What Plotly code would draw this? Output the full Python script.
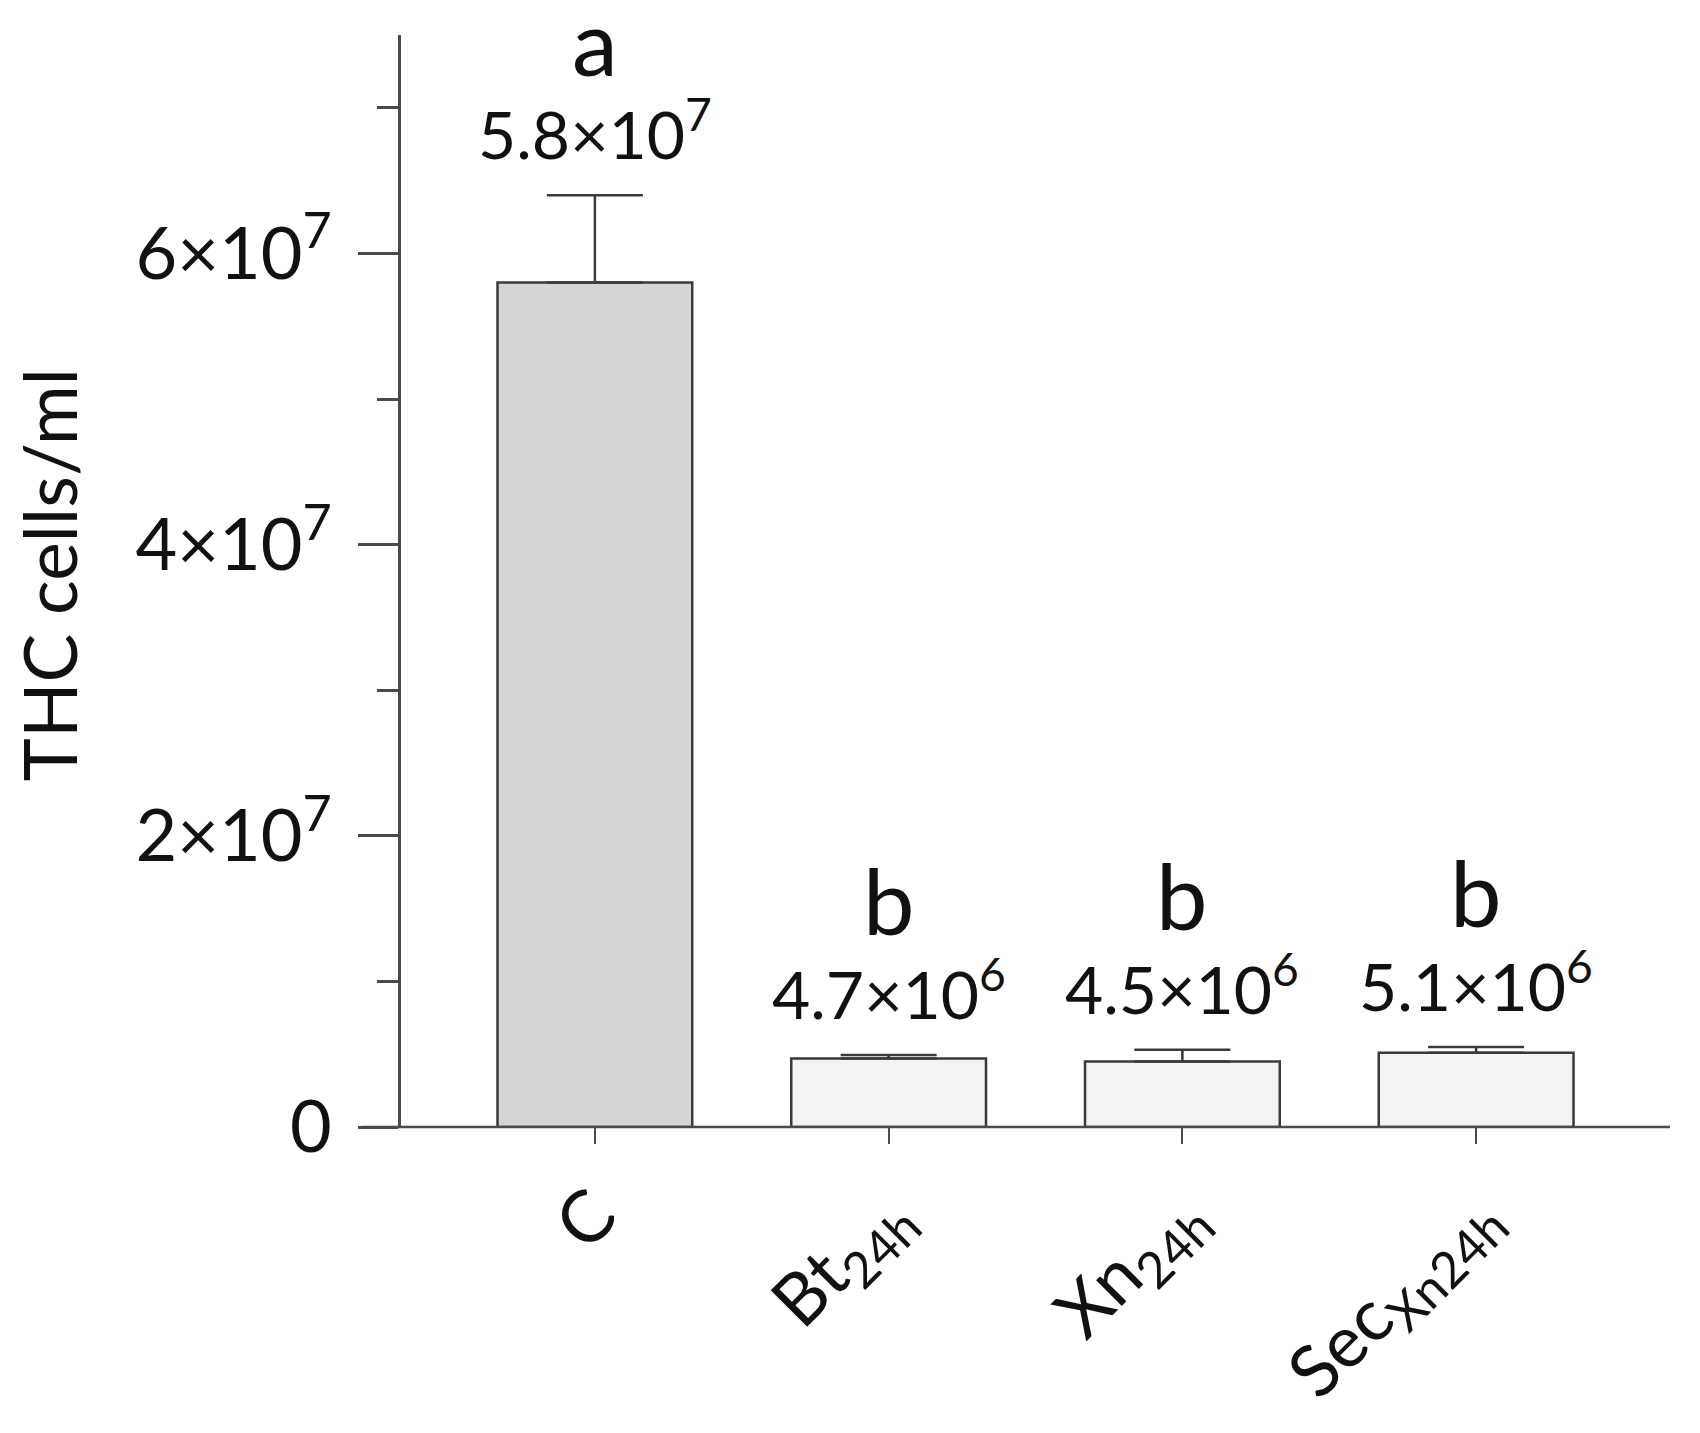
import plotly.graph_objects as go

# ---- data ----
categories = ["C", "Bt<sub>24h</sub>", "Xn<sub>24h</sub>", "Sec<sub>Xn24h</sub>"]
means = [5.8e7, 4.7e6, 4.5e6, 5.1e6]
errors_up = [0.6e7, 0.25e6, 0.8e6, 0.4e6]
value_labels = ["5.8×10<sup>7</sup>", "4.7×10<sup>6</sup>", "4.5×10<sup>6</sup>", "5.1×10<sup>6</sup>"]
letters = ["a", "b", "b", "b"]
bar_colors = ["#d4d4d4", "#f3f3f3", "#f3f3f3", "#f3f3f3"]
ytick_vals = [0, 2e7, 4e7, 6e7]
ytick_text = ["0", "2×10<sup>7</sup>", "4×10<sup>7</sup>", "6×10<sup>7</sup>"]
yminor_vals = [1e7, 3e7, 5e7, 7e7]
y_title = "THC cells/ml"

FONT = "Lato"
AX = "#4a4a4a"
TXT = "#111111"

x_idx = list(range(len(categories)))

fig = go.Figure()
fig.add_trace(go.Bar(
    x=x_idx, y=means, width=0.663,
    marker=dict(color=bar_colors, line=dict(color="#3a3a3a", width=2.5)),
    error_y=dict(type="data", symmetric=False, array=errors_up,
                 arrayminus=[0] * len(means), color="#3a3a3a",
                 thickness=2.5, width=48),
    showlegend=False, hoverinfo="skip",
))

annotations = []
for i, (m, e, lab, let) in enumerate(zip(means, errors_up, value_labels, letters)):
    top = m + e
    annotations.append(dict(x=i, y=top, xref="x", yref="y", text=lab,
                            showarrow=False, yanchor="middle", yshift=66,
                            font=dict(family=FONT, size=66, color=TXT)))
    annotations.append(dict(x=i, y=top, xref="x", yref="y", text=let,
                            showarrow=False, yanchor="middle", yshift=155,
                            font=dict(family=FONT, size=92, color=TXT)))

annotations.append(dict(x=-0.2772, y=0.5055, xref="paper", yref="paper",
                        text=y_title, textangle=-90, showarrow=False,
                        xanchor="center", yanchor="middle",
                        font=dict(family=FONT, size=73, color=TXT)))

fig.update_layout(
    width=1700, height=1433,
    margin=dict(l=393, r=38, t=27, b=314, autoexpand=False),
    paper_bgcolor="white", plot_bgcolor="white",
    annotations=annotations,
    shapes=[dict(type="line", xref="paper", yref="paper",
                 x0=-0.0315, x1=1, y0=0, y1=0,
                 line=dict(color=AX, width=2.5))],
    xaxis=dict(
        range=[-0.66, 3.66], tickmode="array", tickvals=x_idx, ticktext=categories,
        showline=False, showgrid=False, zeroline=False,
        ticks="outside", ticklen=16, tickwidth=2, tickcolor=AX,
        tickangle=-45, tickfont=dict(family=FONT, size=72, color=TXT),
    ),
    yaxis=dict(
        range=[0, 7.5e7], tickmode="array", tickvals=ytick_vals, ticktext=ytick_text,
        showline=True, linecolor=AX, linewidth=2.5,
        showgrid=False, zeroline=False,
        ticks="outside", ticklen=40, tickwidth=2.5, tickcolor=AX,
        ticklabelstandoff=12,
        tickfont=dict(family=FONT, size=72, color=TXT),
        minor=dict(tickmode="array", tickvals=yminor_vals, ticks="outside",
                   ticklen=21, tickwidth=2.5, tickcolor=AX, showgrid=False),
    ),
)

fig.write_html("out.html")
